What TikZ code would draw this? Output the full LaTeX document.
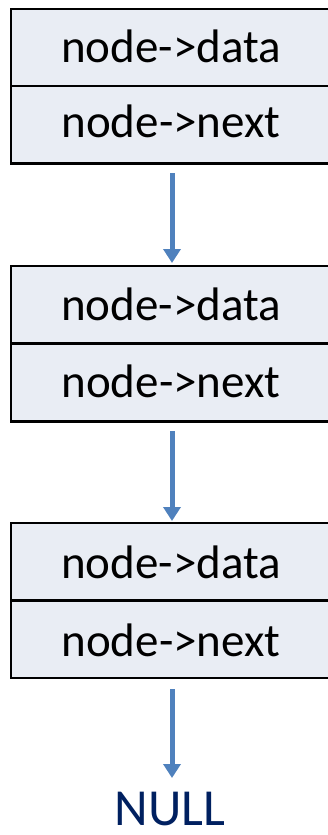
\documentclass[tikz,border=0pt]{standalone}
\usepackage{fontspec}
\setmainfont{Carlito}
\usetikzlibrary{arrows.meta}
\definecolor{cellfill}{HTML}{E9EDF4}
\definecolor{arrowblue}{HTML}{4F81BD}
\definecolor{nullblue}{HTML}{002060}
\tikzset{
  cell/.style={draw=black, line width=2.8pt, fill=cellfill, rectangle, anchor=north west,
    minimum width=340pt, minimum height=77pt, inner sep=0pt, outer sep=0pt},
  label/.style={anchor=base, inner sep=0pt, font=\fontsize{47}{56}\selectfont, text=black},
  link/.style={draw=arrowblue, line width=5pt, -{Triangle[width=17pt,length=14pt]}},
  nulltext/.style={anchor=base, inner sep=0pt, font=\fontsize{52}{60}\selectfont, text=nullblue}
}
\begin{document}
\begin{tikzpicture}[x=1pt,y=-1pt]
\useasboundingbox (0,0) rectangle (328,835);
\clip (0,0) rectangle (328,835);
% box 1
\node[cell] (b1d) at (11,9) {};
\node[cell] (b1n) at (11,86) {};
\node[cell, minimum height=155pt, fill=none] (b1) at (11,9) {};
\node[label] (t1d) at (171,62) {node->data};
\node[label] (t1n) at (171,137) {node->next};
% box 2
\node[cell] (b2d) at (11,266) {};
\node[cell] (b2n) at (11,344) {};
\node[cell, minimum height=156pt, fill=none] (b2) at (11,266) {};
\node[label] (t2d) at (171,320) {node->data};
\node[label] (t2n) at (171,397) {node->next};
% box 3
\node[cell] (b3d) at (11,523) {};
\node[cell] (b3n) at (11,601) {};
\node[cell, minimum height=155pt, fill=none] (b3) at (11,523) {};
\node[label] (t3d) at (171,578) {node->data};
\node[label] (t3n) at (171,656) {node->next};
% NULL
\node[nulltext] (null) at (170,825) {NULL};
% arrow endpoints
\coordinate (a1s) at (172,173);
\coordinate (a1e) at (172,263);
\coordinate (a2s) at (172,431);
\coordinate (a2e) at (172,521);
\coordinate (a3s) at (172,689);
\coordinate (a3e) at (172,778);
\draw[link] (a1s) -- (a1e);
\draw[link] (a2s) -- (a2e);
\draw[link] (a3s) -- (a3e);
\end{tikzpicture}
\end{document}
